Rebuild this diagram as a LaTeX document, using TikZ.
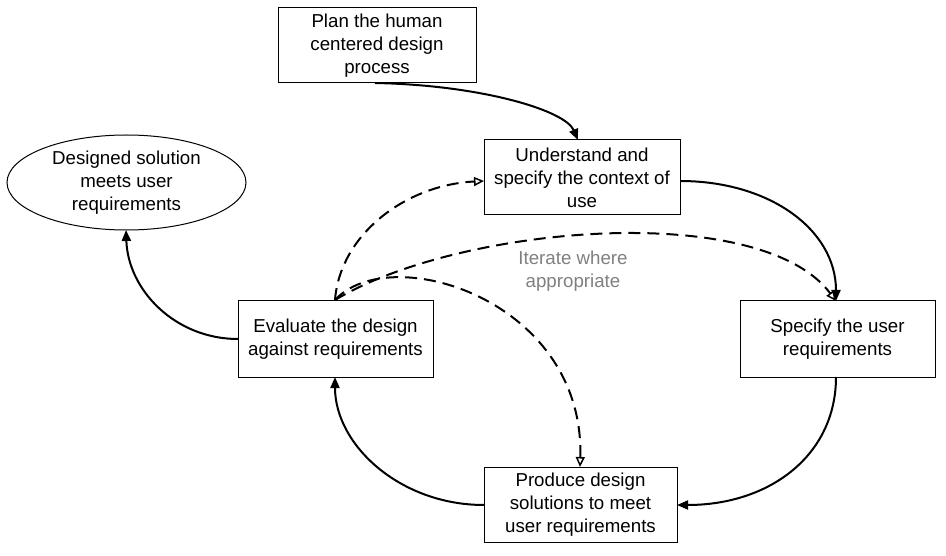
\documentclass[tikz,border=0pt]{standalone}
\usepackage{fontspec}
\setmainfont{Liberation Sans}
\usetikzlibrary{arrows.meta,shapes.geometric}
\begin{document}
\begin{tikzpicture}[x=1pt,y=-1pt,
  font=\fontsize{18.7}{23}\selectfont,
  box/.style={draw, line width=1pt, align=center, inner sep=0pt, minimum width=#1, minimum height=75},
  box/.default=196,
  goal/.style={draw, ellipse, line width=1pt, align=center, inner sep=0pt, minimum width=239, minimum height=95},
  flow/.style={line width=2pt, -{Triangle[length=11pt,width=9pt]}},
  iter/.style={line width=2pt, dash pattern=on 12pt off 7pt, -{Triangle[open,length=10pt,width=9pt,line width=1.5pt]}},
  note/.style={text=black!50, align=center}]
\useasboundingbox (0,0) rectangle (946,556);
\node[box=198] (plan) at (377,45.5) {Plan the human\\centered design\\process};
\node[box=196] (und) at (582,177.5) {Understand and\\specify the context of\\use};
\node[goal] (goal) at (126.5,182.5) {Designed solution\\meets user\\requirements};
\node[box=195, minimum height=76] (eval) at (335.5,339) {Evaluate the design\\against requirements};
\node[box=195, minimum height=76] (spec) at (837.5,339) {Specify the user\\requirements};
\node[box=193] (prod) at (580.5,504.5) {Produce design\\solutions to meet\\user requirements};
\node[note] (iter) at (573,271.5) {Iterate where\\appropriate};

\coordinate (pS) at (375,83);
\coordinate (uN) at (578,140);
\coordinate (uE) at (680,181);
\coordinate (uW) at (484,181);
\coordinate (sN) at (836,301);
\coordinate (sS) at (836,377);
\coordinate (dE) at (677,505);
\coordinate (dW) at (484,505);
\coordinate (dN) at (580,467);
\coordinate (eN) at (335,300);
\coordinate (eS) at (335,377);
\coordinate (eW) at (238,339);
\coordinate (gS) at (126,230);

\draw[flow] (pS) .. controls (480,85) and (565,110) .. (uN);
\draw[flow] (uE) .. controls (770,181) and (836,230) .. (sN);
\draw[flow] (sS) .. controls (836,455) and (770,505) .. (dE);
\draw[flow] (dW) .. controls (400,505) and (335,445) .. (eS);
\draw[flow] (eW) .. controls (175,339) and (128,290) .. (gS);

\draw[iter] (eN) .. controls (340,235) and (405,185) .. (uW);
\draw[iter] (eN) .. controls (460,225) and (760,200) .. (sN);
\draw[iter] (eN) .. controls (390,240) and (585,300) .. (dN);
\end{tikzpicture}
\end{document}
